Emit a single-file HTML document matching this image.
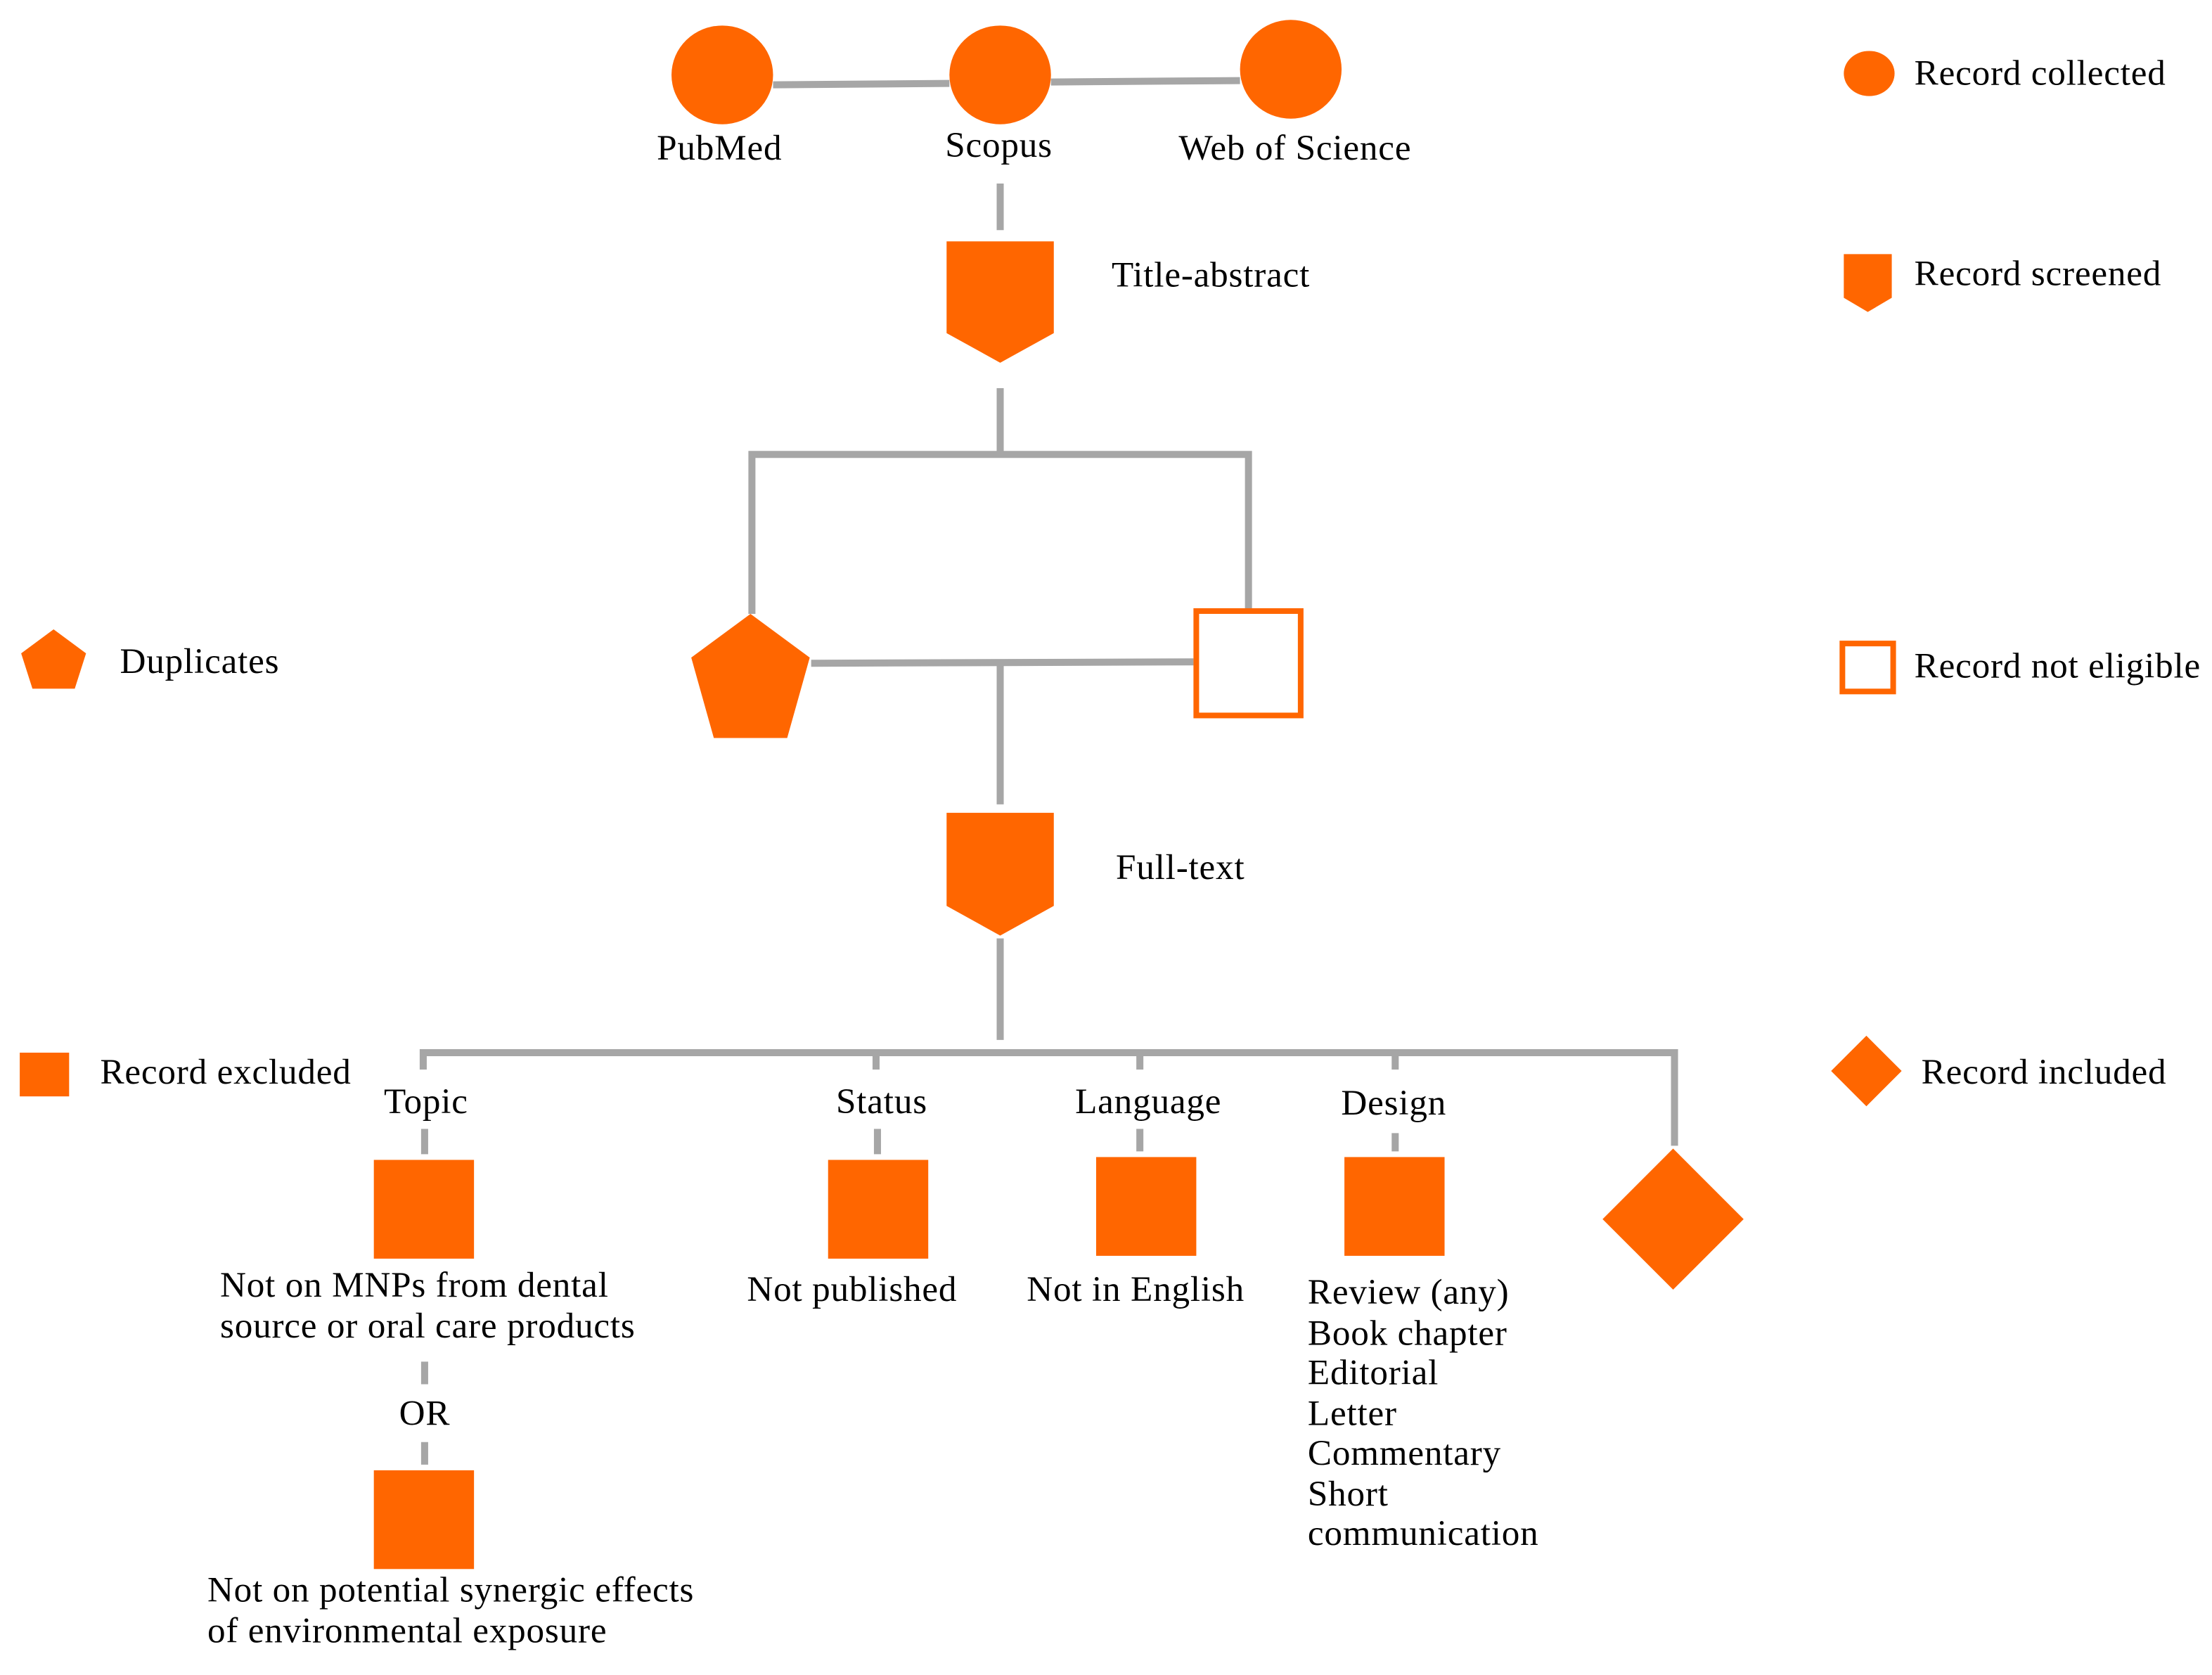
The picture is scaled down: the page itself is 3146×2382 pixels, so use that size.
<!DOCTYPE html>
<html><head><meta charset="utf-8"><style>
html,body{margin:0;padding:0;background:#fff;}
svg{display:block;}
text{font-family:"Liberation Serif",serif;font-size:25.5px;letter-spacing:0.4px;fill:#000;}
</style></head><body>
<svg width="3146" height="2382" viewBox="0 0 1568 1187" xmlns="http://www.w3.org/2000/svg">
<g stroke="#A6A6A6" stroke-width="5" fill="none">
<line x1="548" y1="60" x2="673" y2="59"/>
<line x1="745" y1="58" x2="879" y2="57"/>
<line x1="709" y1="130" x2="709" y2="163"/>
<line x1="709" y1="275" x2="709" y2="322"/>
<polyline points="533,435 533,322 885,322 885,432"/>
<line x1="575" y1="470" x2="846" y2="469"/>
<line x1="709" y1="470" x2="709" y2="570"/>
<line x1="709" y1="665" x2="709" y2="737"/>
<polyline points="300,758 300,746 1187,746 1187,812"/>
<line x1="621" y1="746" x2="621" y2="758"/>
<line x1="808" y1="746" x2="808" y2="758"/>
<line x1="989" y1="746" x2="989" y2="758"/>
<line x1="301" y1="800" x2="301" y2="818"/>
<line x1="622" y1="800" x2="622" y2="818"/>
<line x1="808" y1="800" x2="808" y2="816"/>
<line x1="989" y1="803" x2="989" y2="816"/>
<line x1="301" y1="965" x2="301" y2="981"/>
<line x1="301" y1="1022" x2="301" y2="1038"/>
</g>
<g fill="#FF6600">
<ellipse cx="512" cy="53" rx="36" ry="35"/>
<ellipse cx="709" cy="53" rx="36" ry="35"/>
<ellipse cx="915" cy="49" rx="36" ry="35"/>
<polygon points="671,171 747,171 747,236 709,257 671,236"/>
<polygon points="532,435 574,466 558,523 506,523 490,466"/>
<polygon points="671,576 747,576 747,642 709,663 671,642"/>
<rect x="265" y="822" width="71" height="70"/>
<rect x="587" y="822" width="71" height="70"/>
<rect x="777" y="820" width="71" height="70"/>
<rect x="953" y="820" width="71" height="70"/>
<rect x="265" y="1042" width="71" height="70"/>
<polygon points="1186,814 1236,864 1186,914 1136,864"/>
<ellipse cx="1325" cy="52" rx="18" ry="16"/>
<polygon points="1307,180 1341,180 1341,211 1324,221 1307,211"/>
<polygon points="38,446 61,463 53,488 23,488 15,463"/>
<rect x="14" y="746" width="35" height="31"/>
<polygon points="1323,734 1348,759 1323,784 1298,759"/>
</g>
<g fill="none" stroke="#FF6600" stroke-width="4">
<rect x="848" y="433" width="74" height="74"/>
<rect x="1306" y="456" width="36" height="34"/>
</g>
<text x="510" y="113" text-anchor="middle">PubMed</text>
<text x="708" y="111" text-anchor="middle">Scopus</text>
<text x="918" y="113" text-anchor="middle">Web of Science</text>
<text x="788" y="203">Title-abstract</text>
<text x="791" y="623">Full-text</text>
<text x="302" y="789" text-anchor="middle">Topic</text>
<text x="625" y="789" text-anchor="middle">Status</text>
<text x="814" y="789" text-anchor="middle">Language</text>
<text x="988" y="790" text-anchor="middle">Design</text>
<text x="156" y="919">Not on MNPs from dental</text>
<text x="156" y="948">source or oral care products</text>
<text x="301" y="1010" text-anchor="middle">OR</text>
<text x="147" y="1135">Not on potential synergic effects</text>
<text x="147" y="1164">of environmental exposure</text>
<text x="604" y="922" text-anchor="middle">Not published</text>
<text x="805" y="922" text-anchor="middle">Not in English</text>
<text x="927" y="924">Review  (any)</text>
<text x="927" y="953">Book chapter</text>
<text x="927" y="981">Editorial</text>
<text x="927" y="1010">Letter</text>
<text x="927" y="1038">Commentary</text>
<text x="927" y="1067">Short</text>
<text x="927" y="1095">communication</text>
<text x="1357" y="60">Record collected</text>
<text x="1357" y="202">Record screened</text>
<text x="1357" y="480">Record not eligible</text>
<text x="1362" y="768">Record included</text>
<text x="85" y="477">Duplicates</text>
<text x="71" y="768">Record excluded</text>
</svg>
</body></html>
